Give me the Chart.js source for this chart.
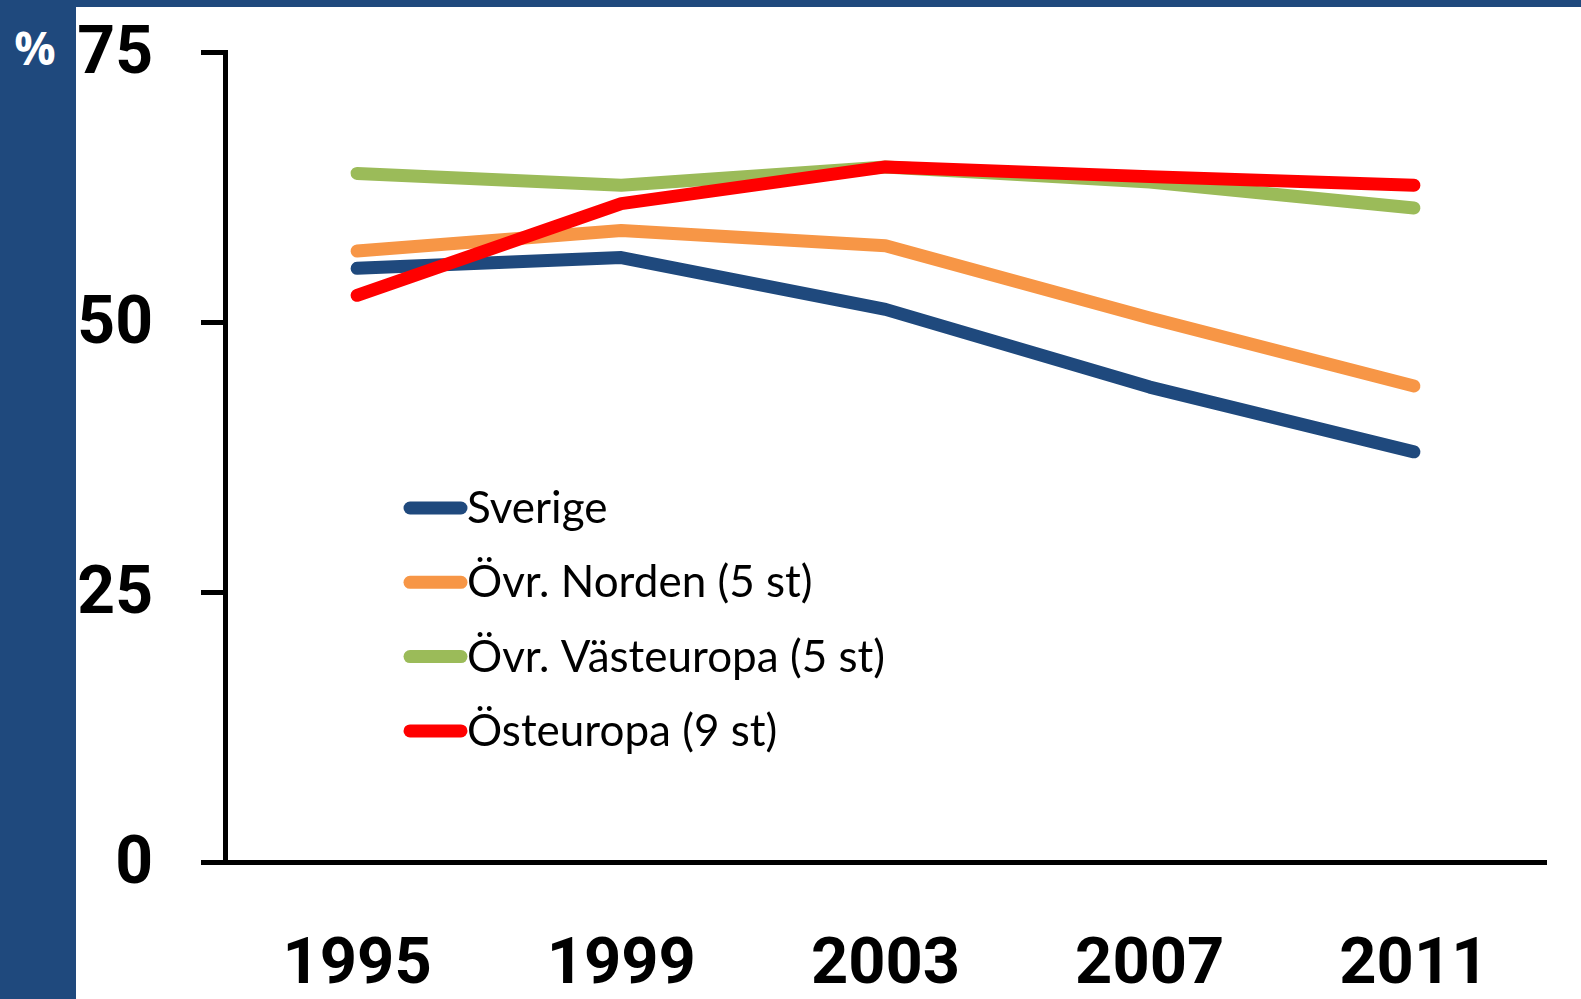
<!DOCTYPE html>
<html>
<head>
<meta charset="utf-8">
<script src="https://cdn.jsdelivr.net/npm/chart.js@4"></script>
<style>
    html, body { margin: 0; padding: 0; background: #fff; overflow: hidden; }
    #wrap { position: relative; width: 1581px; height: 999px; }
    #sideBar { position: absolute; left: 0; top: 0; width: 76px; height: 999px; background: #1F497D; }
    #topBar { position: absolute; left: 0; top: 0; width: 1581px; height: 7px; background: #1F497D; }
    #unit { position: absolute; left: 0; top: 16px; width: 70px; text-align: center;
            font: bold 46px "Open Sans", sans-serif; color: #fff; }
    #chartBox { position: absolute; left: 0; top: 0; width: 1581px; height: 999px; }
</style>
</head>
<body>
<div id="wrap">
    <div id="chartBox"><canvas id="lineChart"></canvas></div>
    <div id="sideBar"></div>
    <div id="topBar"></div>
    <div id="unit">%</div>
</div>
<script>
const YEARS = ['1995', '1999', '2003', '2007', '2011'];
const SERIES_NAMES = ['Sverige', 'Övr. Norden (5 st)', 'Övr. Västeuropa (5 st)', 'Östeuropa (9 st)'];
const SVERIGE = [55.0, 56.0, 51.2, 44.0, 38.0];
const NORDEN = [56.6, 58.5, 57.1, 50.4, 44.1];
const VASTEUROPA = [63.8, 62.7, 64.4, 63.0, 60.6];
const OSTEUROPA = [52.5, 61.0, 64.4, 63.5, 62.7];
const Y_TICKS = [0, 25, 50, 75];

const COLORS = ['#1F497D', '#F79646', '#9BBB59', '#FF0000'];

// legend sits inside the plot area, so draw it by hand
const insideLegend = {
    id: 'insideLegend',
    afterDatasetsDraw(chart) {
        const { ctx, chartArea } = chart;
        const x0 = chartArea.left + 185;
        const x1 = chartArea.left + 236;
        ctx.save();
        ctx.font = '44px Lato, sans-serif';
        ctx.textBaseline = 'middle';
        ctx.lineCap = 'round';
        chart.data.datasets.forEach((ds, i) => {
            const y = chartArea.top + 455.5 + i * 74.3;
            ctx.strokeStyle = ds.borderColor;
            ctx.lineWidth = 13;
            ctx.beginPath();
            ctx.moveTo(x0, y);
            ctx.lineTo(x1, y);
            ctx.stroke();
            ctx.fillStyle = '#000';
            ctx.fillText(ds.label, x1 + 6, y + 1);
        });
        ctx.restore();
    }
};

function makeDataset(label, data, i) {
    return {
        label,
        data,
        borderColor: COLORS[i],
        backgroundColor: COLORS[i],
        borderWidth: 13,
        borderCapStyle: 'round',
        borderJoinStyle: 'round',
        pointRadius: 0,
        tension: 0,
        order: SERIES_NAMES.length - i
    };
}

document.addEventListener('DOMContentLoaded', () => {
    const ctx = document.getElementById('lineChart').getContext('2d');
    new Chart(ctx, {
        type: 'line',
        data: {
            labels: YEARS,
            datasets: [
                makeDataset(SERIES_NAMES[0], SVERIGE, 0),
                makeDataset(SERIES_NAMES[1], NORDEN, 1),
                makeDataset(SERIES_NAMES[2], VASTEUROPA, 2),
                makeDataset(SERIES_NAMES[3], OSTEUROPA, 3)
            ]
        },
        options: {
            responsive: true,
            maintainAspectRatio: false,
            animation: false,
            layout: { padding: { left: 76, top: 52.5, right: 35, bottom: 0 } },
            plugins: {
                legend: { display: false },
                tooltip: { enabled: false }
            },
            scales: {
                x: {
                    offset: true,
                    grid: { display: false, drawTicks: false },
                    border: { display: true, color: '#000', width: 5 },
                    ticks: {
                        color: '#000',
                        padding: 66,
                        font: { family: 'Roboto', weight: 'bold', size: 65 }
                    },
                    afterFit(scale) { scale.height = 137; }
                },
                y: {
                    min: 0,
                    max: 75,
                    afterBuildTicks(scale) { scale.ticks = Y_TICKS.map(v => ({ value: v })); },
                    grid: {
                        drawOnChartArea: false,
                        drawTicks: true,
                        tickLength: 24,
                        tickWidth: 5,
                        tickColor: '#000'
                    },
                    border: { display: true, color: '#000', width: 5 },
                    ticks: {
                        color: '#000',
                        padding: 48,
                        labelOffset: 4,
                        font: { family: 'Roboto', weight: 'bold', size: 66 }
                    },
                    afterFit(scale) {
                        scale.width = 149;
                        // tick padding would otherwise push the plot top down
                        scale.paddingTop = 0;
                        scale.paddingBottom = 0;
                    }
                }
            }
        },
        plugins: [insideLegend]
    });
});
</script>
</body>
</html>
